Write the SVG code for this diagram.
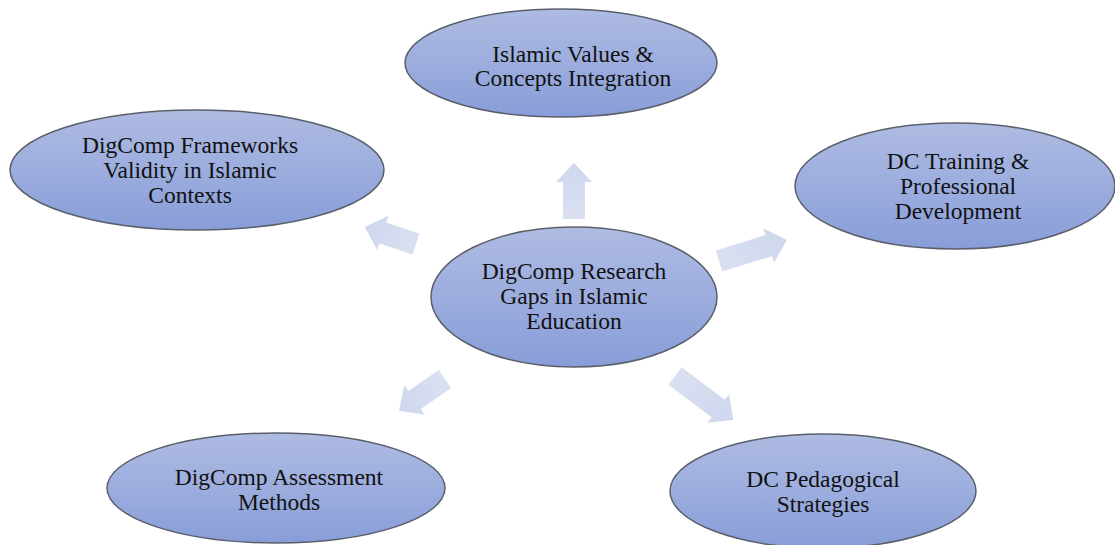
<svg xmlns="http://www.w3.org/2000/svg" width="1115" height="545" viewBox="0 0 1115 545">
  <defs>
    <linearGradient id="nodeFill" x1="0" y1="0" x2="0" y2="1">
      <stop offset="0" stop-color="#aebbe2"/>
      <stop offset="0.5" stop-color="#9cadde"/>
      <stop offset="1" stop-color="#889dd8"/>
    </linearGradient>
    <linearGradient id="arrowFill" x1="0" y1="0" x2="1" y2="0">
      <stop offset="0" stop-color="#dae0f1"/>
      <stop offset="1" stop-color="#ced7ee"/>
    </linearGradient>
  </defs>
  <style>
    .node ellipse { fill: url(#nodeFill); stroke: #5a5f6a; stroke-width: 1.5; }
    .node text { font-family: 'Liberation Serif', 'Times New Roman', 'DejaVu Serif', serif; font-size: 23.5px; fill: #111; text-anchor: middle; }
    .arrow { fill: url(#arrowFill); stroke: none; }
  </style>
  <rect width="1115" height="545" fill="#ffffff"/>

  <!-- block arrows: each path points along +x from its tail, then is rotated into place -->
  <g id="connectors">
    <path class="arrow" transform="translate(574,219) rotate(-90)" d="M0,-11 L37,-11 L37,-18 L56,0 L37,18 L37,11 L0,11 Z"/>
    <path class="arrow" transform="translate(416,244) rotate(198.4)" d="M0,-11 L35,-11 L35,-18 L54,0 L35,18 L35,11 L0,11 Z"/>
    <path class="arrow" transform="translate(719,261) rotate(-17.2)" d="M0,-11 L52,-11 L52,-18 L71,0 L52,18 L52,11 L0,11 Z"/>
    <path class="arrow" transform="translate(445,379) rotate(145.4)" d="M0,-11 L37,-11 L37,-18 L56,0 L37,18 L37,11 L0,11 Z"/>
    <path class="arrow" transform="translate(675,376) rotate(37)" d="M0,-11 L54,-11 L54,-18 L73,0 L54,18 L54,11 L0,11 Z"/>
  </g>

  <g id="node-center" class="node" font-family="Liberation Serif, serif">
    <ellipse cx="574" cy="297" rx="143" ry="70"/>
    <text x="574" y="279">DigComp Research</text>
    <text x="574" y="304">Gaps in Islamic</text>
    <text x="574" y="329">Education</text>
  </g>

  <g id="node-top" class="node" font-family="Liberation Serif, serif">
    <ellipse cx="561" cy="63" rx="156" ry="54"/>
    <text x="573" y="62">Islamic Values &amp;</text>
    <text x="573" y="86">Concepts Integration</text>
  </g>

  <g id="node-left" class="node" font-family="Liberation Serif, serif">
    <ellipse cx="197" cy="170" rx="187" ry="60"/>
    <text x="190" y="153">DigComp Frameworks</text>
    <text x="190" y="178">Validity in Islamic</text>
    <text x="190" y="203">Contexts</text>
  </g>

  <g id="node-right" class="node" font-family="Liberation Serif, serif">
    <ellipse cx="955" cy="186" rx="160" ry="63"/>
    <text x="958" y="169">DC Training &amp;</text>
    <text x="958" y="194">Professional</text>
    <text x="958" y="219">Development</text>
  </g>

  <g id="node-bottom-left" class="node" font-family="Liberation Serif, serif">
    <ellipse cx="276" cy="488" rx="169" ry="55"/>
    <text x="279" y="485">DigComp Assessment</text>
    <text x="279" y="510">Methods</text>
  </g>

  <g id="node-bottom-right" class="node" font-family="Liberation Serif, serif">
    <ellipse cx="823" cy="491" rx="153" ry="57"/>
    <text x="823" y="487">DC Pedagogical</text>
    <text x="823" y="512">Strategies</text>
  </g>
</svg>
